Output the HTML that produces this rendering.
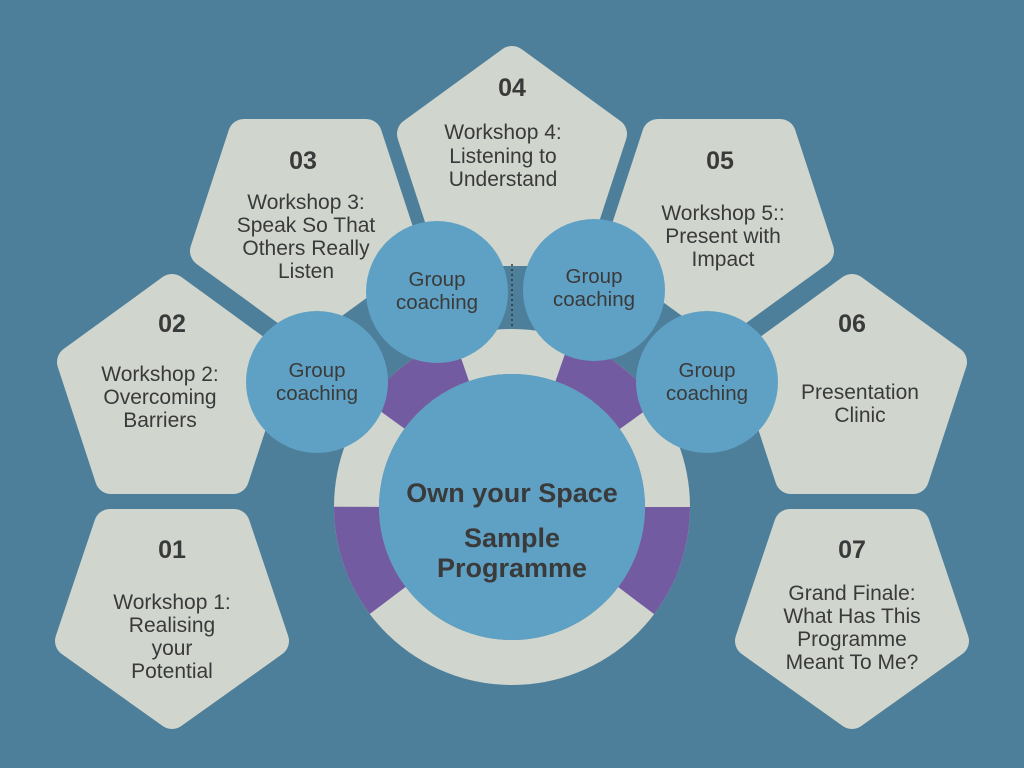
<!DOCTYPE html>
<html><head><meta charset="utf-8"><style>
html,body{margin:0;padding:0;background:#4e7f9a;}
svg{display:block}
text{font-family:"Liberation Sans",sans-serif;fill:#3a3a3a;text-anchor:middle}
.n{font-weight:bold;font-size:25px}
.t{font-size:21px}
.g{font-size:20.5px}
.c{font-weight:bold;font-size:27px}
</style></head><body>
<svg width="1024" height="768" viewBox="0 0 1024 768" xmlns="http://www.w3.org/2000/svg">
<rect width="1024" height="768" fill="#4e7f9a"/>
<g fill="#d0d6ce" stroke="#d0d6ce" stroke-width="32" stroke-linejoin="round">
<polygon points="172,713 273,641 234,525 110,525 71,641"/>
<polygon points="852,713 953,641 914,525 790,525 751,641"/>
<polygon points="172,290 271,362 233,478 111,478 73,362"/>
<polygon points="852,290 951,362 913,478 791,478 753,362"/>
<polygon points="305,323 404,251 366,135 244,135 206,251"/>
<polygon points="719,323 818,251 780,135 658,135 620,251"/>
<polygon points="512,62 611,134 573,250 451,250 413,134"/>
</g>
<path d="M380,330 L644,330 L700,420 L324,420 Z" fill="#4e7f9a"/>
<line x1="512" y1="264" x2="512" y2="330" stroke="#333" stroke-width="1.5" stroke-dasharray="2,3"/>
<circle cx="512" cy="507" r="155.5" fill="none" stroke="#d0d6ce" stroke-width="45"/>
<circle cx="512" cy="507" r="155.5" fill="none" stroke="#735ba1" stroke-width="45" stroke-dasharray="100.4 287.7 100.4 97.7 95 103.1 95 97.7"/>
<circle cx="512" cy="507" r="133" fill="#5fa1c4"/>
<g fill="#5fa1c4">
<circle cx="317" cy="382" r="71"/>
<circle cx="437" cy="292" r="71"/>
<circle cx="594" cy="290" r="71"/>
<circle cx="707" cy="382" r="71"/>
</g>
<text class="c" x="512" y="502">Own your Space</text>
<text class="c" x="512" y="547">Sample</text>
<text class="c" x="512" y="577">Programme</text>
<g class="g">
<text x="317" y="377">Group</text><text x="317" y="400">coaching</text>
<text x="437" y="286">Group</text><text x="437" y="309">coaching</text>
<text x="594" y="283">Group</text><text x="594" y="306">coaching</text>
<text x="707" y="377">Group</text><text x="707" y="400">coaching</text>
</g>
<text class="n" x="172" y="558">01</text>
<g class="t"><text x="172" y="609">Workshop 1:</text><text x="172" y="632">Realising</text><text x="172" y="655">your</text><text x="172" y="678">Potential</text></g>
<text class="n" x="172" y="332">02</text>
<g class="t"><text x="160" y="381">Workshop 2:</text><text x="160" y="404">Overcoming</text><text x="160" y="427">Barriers</text></g>
<text class="n" x="303" y="169">03</text>
<g class="t"><text x="306" y="209">Workshop 3:</text><text x="306" y="232">Speak So That</text><text x="306" y="255">Others Really</text><text x="306" y="278">Listen</text></g>
<text class="n" x="512" y="96">04</text>
<g class="t"><text x="503" y="139">Workshop 4:</text><text x="503" y="163">Listening to</text><text x="503" y="186">Understand</text></g>
<text class="n" x="720" y="169">05</text>
<g class="t"><text x="723" y="220">Workshop 5::</text><text x="723" y="243">Present with</text><text x="723" y="266">Impact</text></g>
<text class="n" x="852" y="332">06</text>
<g class="t"><text x="860" y="399">Presentation</text><text x="860" y="422">Clinic</text></g>
<text class="n" x="852" y="558">07</text>
<g class="t"><text x="852" y="600">Grand Finale:</text><text x="852" y="623">What Has This</text><text x="852" y="646">Programme</text><text x="852" y="669">Meant To Me?</text></g>
</svg>
</body></html>
